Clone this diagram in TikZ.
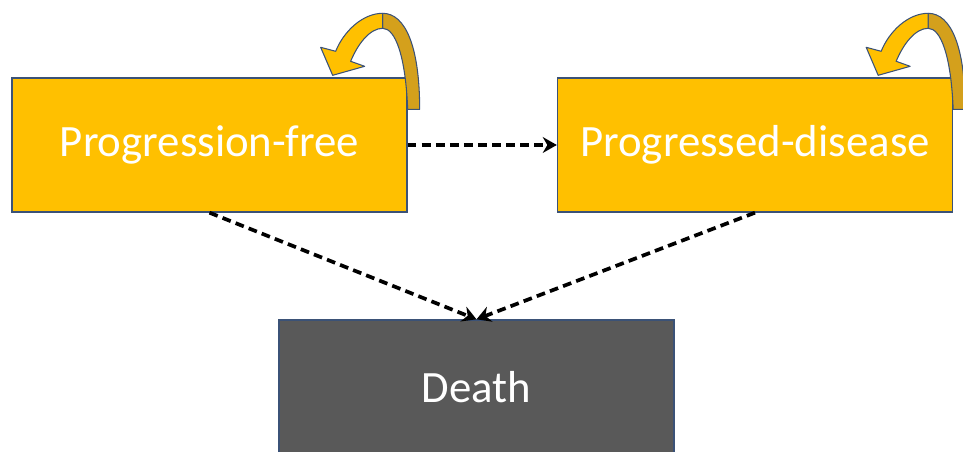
\documentclass[tikz,border=0pt]{standalone}
\usepackage{fontspec}
\setmainfont{Carlito}
\usetikzlibrary{arrows.meta}

\definecolor{boxgold}{HTML}{FFC000}
\definecolor{loopback}{HTML}{D4A01C}
\definecolor{deathgrey}{HTML}{595959}
\definecolor{edgeblue}{HTML}{3B5277}

\tikzset{
	state/.style={draw=edgeblue, line width=0.8pt, fill=boxgold, text=white,
		minimum width=7.9cm, minimum height=2.68cm, inner sep=0pt,
		font=\fontsize{25.5}{30}\selectfont},
	move/.style={line width=2.1pt, dash pattern=on 5pt off 3pt,
		-{Stealth[length=8pt, width=9pt]}},
	loopedge/.style={draw=edgeblue, line width=0.6pt, line join=round}
}

% curled arrow over the top right corner of a box
\newcommand{\curlloop}[1]{
	\begin{scope}[shift={(#1.north east)}]
		\filldraw[loopedge, fill=loopback] (-25,-64) .. controls (-2,-64) and (12,-30) .. (12,32)
			-- (0,32) .. controls (-2,-20) and (-12,-49) .. (-25,-49) -- cycle;
		\filldraw[loopedge, fill=boxgold] (-25,-64) .. controls (-45,-64) and (-64,-46) .. (-72,-26)
			-- (-87,-30) -- (-75,-2) -- (-43,-11) -- (-57,-16)
			.. controls (-50,-33) and (-38,-49) .. (-25,-49) -- cycle;
	\end{scope}
}

\begin{document}
\begin{tikzpicture}[x=0.02cm, y=-0.02cm]
	\useasboundingbox (0,0) rectangle (963,452);

	% Define the three states
	\node[state] (PF) at (209.5,145) {Progression-free};
	\node[state] (PD) at (755,145) {Progressed-disease};
	\node[state, fill=deathgrey] (Death) at (476.5,387) {Death};

	% Define the transitions
	\draw[move] (PF.east) -- (PD.west);
	\draw[move] (PF.south) -- (Death.north);
	\draw[move] (PD.south) -- (Death.north);

	% Define the loops
	\curlloop{PF}
	\curlloop{PD}
\end{tikzpicture}
\end{document}
